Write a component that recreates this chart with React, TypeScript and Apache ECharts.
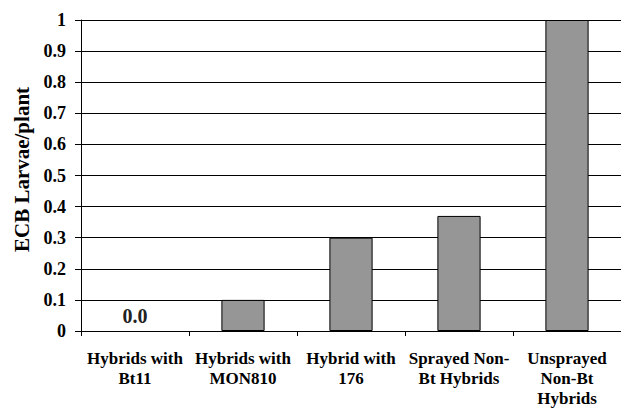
import React, { useEffect, useRef } from "react";
import * as echarts from "echarts";

const categories = [
  "Hybrids with\nBt11",
  "Hybrids with\nMON810",
  "Hybrid with\n176",
  "Sprayed Non-\nBt Hybrids",
  "Unsprayed\nNon-Bt\nHybrids",
];
const larvaePerPlant = [0, 0.1, 0.3, 0.37, 1.0];
const yTickLabels = ["0", "0.1", "0.2", "0.3", "0.4", "0.5", "0.6", "0.7", "0.8", "0.9", "1"];
const firstBarLabel = "0.0";
const yAxisTitle = "ECB Larvae/plant";

const FONT = "'Liberation Serif', 'Times New Roman', serif";

export default function App() {
  const ref = useRef<HTMLDivElement>(null);
  useEffect(() => {
    if (!ref.current) return;
    const chart = echarts.init(ref.current, null, { renderer: "svg" });
    chart.setOption({
      animation: false,
      grid: { left: 81, top: 20, right: -10, bottom: 75 },
      xAxis: {
        type: "category",
        data: categories,
        axisLine: { show: true, lineStyle: { color: "#000", width: 1 } },
        axisTick: { show: true, length: 5, lineStyle: { color: "#000" } },
        axisLabel: {
          interval: 0,
          margin: 17,
          fontFamily: FONT,
          fontWeight: "bold",
          fontSize: 17,
          lineHeight: 20,
          color: "#000",
        },
      },
      yAxis: {
        type: "value",
        min: 0,
        max: 1,
        interval: 0.1,
        name: yAxisTitle,
        nameLocation: "middle",
        nameGap: 47,
        nameTextStyle: {
          fontFamily: FONT,
          fontWeight: "bold",
          fontSize: 21,
          color: "#000",
          padding: [0, 0, 0, 12],
        },
        axisLine: { show: true, lineStyle: { color: "#000", width: 1 } },
        axisTick: { show: true, length: 6, lineStyle: { color: "#000" } },
        splitLine: { show: true, lineStyle: { color: "#000", width: 1 } },
        axisLabel: {
          margin: 15,
          fontFamily: FONT,
          fontWeight: "bold",
          fontSize: 18,
          color: "#000",
          formatter: (v: number) => yTickLabels[Math.round(v * 10)] ?? String(v),
        },
      },
      series: [
        {
          type: "bar",
          barWidth: "40%",
          itemStyle: { color: "#969696", borderColor: "#000", borderWidth: 1 },
          data: larvaePerPlant.map((v, i) =>
            i === 0
              ? {
                  value: v,
                  itemStyle: { borderWidth: 0, color: "transparent" },
                  label: {
                    show: true,
                    position: "top",
                    distance: 5,
                    formatter: firstBarLabel,
                    fontFamily: FONT,
                    fontWeight: "bold",
                    fontSize: 20,
                    color: "#222",
                  },
                }
              : v
          ),
        },
      ],
    });
    return () => chart.dispose();
  }, []);
  return (
    <div
      ref={ref}
      style={{ position: "fixed", left: 0, top: 0, width: 621, height: 408, background: "#fff" }}
    />
  );
}
